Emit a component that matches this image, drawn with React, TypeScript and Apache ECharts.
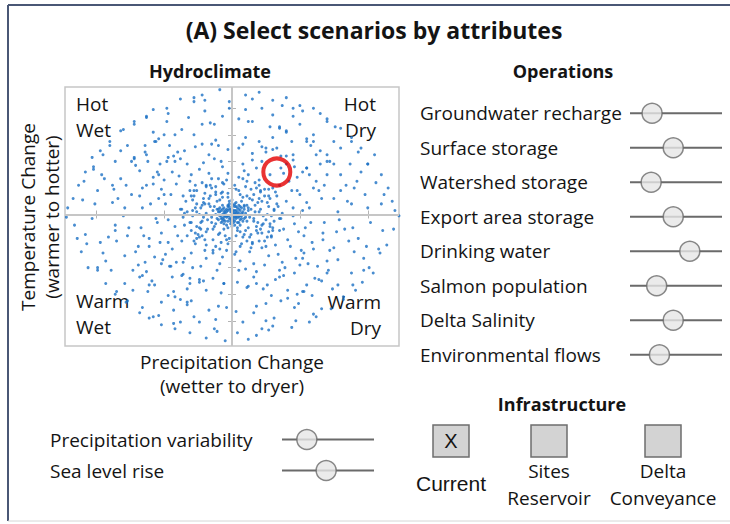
import React, { useEffect, useRef } from "react";
import * as echarts from "echarts";

const TITLE = "(A) Select scenarios by attributes";

// Scenario cloud: precipitation change (x, wetter -> dryer) and temperature change (y, warmer -> hotter), arbitrary units
const SCENARIOS_CORE =
  "0,0 2,1 -1,2 -3,-1 1,-2 4,0 -5,1 3,3 -2,-3 5,-2 -4,4 0,5 -6,-2 2,-5 6,3 -7,0 1,7 -3,6 7,-1 -8,3 4,-6 -1,-7 8,2 -5,-5 3,6 -9,-1 6,-4 -2,8 9,-3 -6,5 0,-9 -10,2 5,7 -4,-8 10,1 -11,-3 7,5 2,-8 -8,-6 -7,7 9,6 -12,0 11,-5 3,9 -3,-10 6,-8 -9,5 -1,4 2,3 -2,-1 1,1 -4,2 3,-3 -3,3 4,2 -6,-4 5,4 -5,-1 0,-4 -1,-5 2,6 4,-2 -7,-3 -6,2 1,-6 7,1 -8,-1 8,-5 -10,-4 -11,4 12,3 -2,10 0,11 4,-10 " +
  "1,3 -2,4 3,-1 -4,-2 5,1 -6,0 2,-2 -1,-3 6,-1 -3,-5 4,5 -5,3 0,2 1,-4 -2,6 7,-3 -7,4 3,1 -4,-1 8,0 -9,2 5,-6 -6,-7 2,8 -3,7 9,4 -8,-3 6,6 -7,-5 10,-2";
const SCENARIOS_NEAR =
  "14,4 -15,-6 18,-9 -17,8 20,2 -21,-2 13,12 -14,-11 16,15 -16,14 9,-15 -8,16 25,-4 -23,5 22,10 -23,-11 5,18 -4,-19 27,6 -26,-9 11,-20 -12,21 19,-14 -20,16 29,-1 -29,3 24,14 -24,-17 15,-21 -15,20 2,22 -3,-22 30,-10 -29,11 7,-22 -6,23 21,17 -20,-19 26,-17 -26,18 17,2 -19,1 12,-10 -11,10 23,-7 -22,7 8,13 -9,-14 28,12 -27,-14 14,19 -14,-19 31,4 -30,-6 20,-20 -19,21 10,21 -8,-21 26,0 -26,2 16,-5 -16,6 13,-17 -12,17 6,-13 -7,13 24,19 -22,-16 19,9 -18,-11 27,-13 -28,14 3,-16 -3,16 11,7 -12,-7 21,-11 -21,12 " +
  "13,-2 -14,3 10,-12 -9,11 17,7 -18,-4 6,15 -5,-16 19,-6 -20,8 15,11 -13,-9 4,-12 -3,13 21,4 -22,-5 11,14 -10,-15 18,-12 -17,12 8,-17 -7,17 23,-1 -24,0 12,5 -13,6 16,-3 -15,-2 7,10 -6,-11 20,12 -19,-13 14,-15 -12,15 3,19 -2,-18 22,-8 -21,9 9,7 -10,4";
const SCENARIOS_INNER =
  "26,9 -27,5 31,-5 -33,2 20,22 -22,24 24,-20 -26,-18 8,27 -9,-26 33,14 -30,-12 14,-25 -15,27 29,-16 -31,18 3,-28 -4,26 36,-3 -35,-8 17,24 -19,-23 27,19 -28,-20 34,6 -34,10 11,25 -12,-24 30,-12 -30,14 22,-14 -24,-10 18,20 -16,22 35,-12 -37,4 6,-24 -7,24 25,-24 -27,22 32,17 -33,-16 15,-22 -14,-27 37,1 -36,-2 21,18 -23,-6 28,-7 -29,-1";
const SCENARIOS_MID =
  "40,10 35,22 28,30 18,35 8,38 45,5 50,15 42,25 30,20 22,40 12,30 48,28 36,35 5,28 33,8 52,3 27,14 15,41 44,18 38,31 55,9 31,3 20,26 9,33 46,36 " +
  "-36,14 -31,25 -24,34 -17,31 -7,36 -49,8 -52,19 -41,23 -28,18 -21,39 -10,27 -44,32 -33,38 -3,31 -38,4 -54,12 -26,8 -13,42 -45,15 -39,29 -50,26 -30,30 -19,22 -8,40 -35,1 " +
  "-42,-9 -37,-20 -30,-29 -19,-33 -9,-37 -47,-4 -52,-14 -44,-26 -27,-22 -23,-39 -14,-29 -49,-30 -35,-33 -4,-27 -31,-6 -55,-6 -25,-15 -11,-42 -40,-16 -36,-36 -53,-21 -29,-40 -20,-27 -7,-32 -45,-39 " +
  "38,-11 32,-23 27,-31 16,-37 6,-35 46,-7 53,-16 43,-24 29,-17 24,-38 13,-28 47,-33 37,-36 2,-30 35,-3 54,-10 28,-9 10,-41 41,-19 34,-30 51,-27 22,-25 18,-43 5,-42 45,-1 " +
  "66,12 -67,-10 62,25 -63,22 55,35 -52,-37 40,44 -43,44 25,50 -24,-51 8,53 -6,-52 68,-6 -66,5 60,-26 -61,-24 50,-38 -48,40 35,-47 -36,-45 18,-52 -15,53 64,18 -65,-16 57,30 -58,28 45,41 -46,-39 30,49 -31,-48 12,-54 -10,52 67,-14 -68,14 52,-33 -55,32 38,-46 -40,47 22,51 -21,-50";
const SCENARIOS_OUTER =
  "60,20 70,30 20,55 45,45 57,5 75,12 65,38 33,50 10,58 52,32 78,2 68,22 40,38 25,47 5,50 62,45 48,18 30,58 15,46 72,40 58,52 44,55 80,18 55,35 36,44 " +
  "-58,23 -68,33 -22,53 -47,43 -60,8 -74,15 -62,40 -35,48 -12,56 -54,30 -79,5 -66,20 -42,40 -27,51 -3,49 -64,47 -50,15 -28,60 -17,45 -71,37 -56,55 -46,52 -78,22 -53,38 -38,42 " +
  "-61,-18 -71,-28 -19,-57 -44,-47 -56,-3 -76,-10 -64,-36 -31,-52 -8,-59 -51,-34 -80,-1 -69,-24 -41,-36 -24,-49 -6,-52 -63,-43 -47,-21 -33,-56 -14,-48 -73,-42 -59,-50 -43,-58 -77,-16 -57,-32 -37,-46 " +
  "59,-21 72,-27 23,-56 46,-44 58,-6 77,-13 63,-39 32,-49 11,-55 53,-29 79,-4 67,-19 39,-40 26,-53 4,-51 61,-48 49,-13 29,-61 16,-47 70,-35 55,-53 41,-57 75,-25 56,-37 35,-42 " +
  "88,8 -86,-12 80,30 -82,27 70,45 -68,-47 55,57 -57,55 35,65 -33,-66 12,70 -10,-69 89,-10 -88,9 78,-34 -79,-31 66,-50 -64,52 48,-60 -47,-61 25,-67 -22,68 84,22 -85,-20 75,38 -74,40 60,55 -61,-53 40,63 -42,-62 18,-69 -16,69 86,-20 -87,19 70,-44 -72,43 52,-58 -50,60 28,66 -30,-65";
const SCENARIOS_FAR =
  "90,20 80,50 30,75 60,60 100,5 50,68 70,40 15,70 95,32 85,10 40,62 22,80 75,55 65,48 98,15 5,72 55,55 87,38 45,74 35,66 92,25 10,79 " +
  "-88,22 -82,48 -32,73 -58,62 -101,8 -48,70 -72,42 -13,68 -96,30 -84,12 -42,60 -20,78 -77,52 -63,45 -99,18 -7,74 -54,57 -86,40 -47,76 -37,64 -94,27 -2,80 " +
  "-91,-17 -79,-52 -28,-77 -62,-58 -103,-3 -52,-66 -69,-38 -17,-72 -93,-35 -86,-8 -38,-64 -24,-81 -73,-57 -66,-46 -97,-21 -4,-70 -57,-53 -89,-42 -43,-72 -33,-68 -95,-29 -12,-79 " +
  "93,-18 78,-53 31,-78 59,-61 102,-6 49,-67 71,-42 16,-74 97,-33 83,-11 41,-63 25,-80 74,-56 64,-49 99,-24 3,-73 53,-58 88,-44 46,-70 36,-65 90,-28 8,-81";
const SCENARIOS_EDGE =
  "110,30 95,50 60,80 20,92 118,10 80,65 40,88 105,45 115,20 70,72 30,86 88,58 50,82 10,90 100,38 120,3 65,76 112,15 " +
  "-108,32 -97,48 -58,79 -22,90 -117,12 -82,63 -38,87 -103,43 -113,22 -72,70 -28,88 -90,55 -48,80 -9,94 -102,36 -121,5 -63,74 -2,85 " +
  "-111,-28 -93,-52 -61,-78 -19,-93 -116,-8 -78,-66 -42,-86 -106,-40 -114,-18 -68,-74 -31,-89 -86,-60 -52,-83 -11,-88 -99,-42 -122,-2 -66,-70 -5,-95 " +
  "109,-29 96,-51 57,-81 18,-91 119,-11 82,-64 44,-85 104,-44 114,-23 73,-71 27,-87 91,-57 47,-80 12,-94 101,-40 123,-1 62,-77 4,-89 " +
  "110,8 -108,-15 100,38 -102,34 88,55 -85,-58 70,70 -72,68 45,80 -43,-82 15,87 -13,-86 111,-12 -110,11 97,-42 -99,-40 82,-62 -80,64 60,-75 -58,-77 30,-84 -28,85 106,24 -107,-22 93,47 -95,45 76,66 -77,-65 52,78 -54,-76 22,-86 -20,86 108,-26 -109,25 89,-53 -90,52 66,-71 -63,73 37,82 -38,-81";

const parsePairs = (s: string) =>
  s.trim().split(/\s+/).map((p) => p.split(",").map(Number));
const SCENARIOS = [
  SCENARIOS_CORE,
  SCENARIOS_NEAR,
  SCENARIOS_INNER,
  SCENARIOS_MID,
  SCENARIOS_OUTER,
  SCENARIOS_FAR,
  SCENARIOS_EDGE,
].flatMap(parsePairs);

const SELECTED_SCENARIO = [33, 32];

const X_RANGE = [-123, 123];
const Y_RANGE = [-99, 96];
const X_TICKS = [-100, -50, 0, 50, 100];
const Y_TICKS = [-80, -60, -40, -20, 0, 20, 40, 60, 80];

const OPERATIONS = [
  "Groundwater recharge",
  "Surface storage",
  "Watershed storage",
  "Export area storage",
  "Drinking water",
  "Salmon population",
  "Delta Salinity",
  "Environmental flows",
];
const OPERATION_LEVELS = [0.24, 0.47, 0.23, 0.47, 0.65, 0.29, 0.47, 0.32];

const CLIMATE_SLIDERS = ["Precipitation variability", "Sea level rise"];
const CLIMATE_LEVELS = [0.27, 0.48];

const INFRASTRUCTURE = ["Current", "Sites\nReservoir", "Delta\nConveyance"];
const INFRA_SELECTED = [true, false, false];

const FONT = '"Open Sans", "Noto Sans", sans-serif';
const ARIAL = '"Liberation Sans", Arial, sans-serif';
const INK = "#141414";
const DOT = "#1c70c4";
const TRACK = "#6a6a6a";
const KNOB_FILL = "#e6e6e6";

const scatterAxisX = (position: "bottom" | "top") => ({
  gridIndex: 0,
  type: "value",
  position,
  min: X_RANGE[0],
  max: X_RANGE[1],
  axisLine: { show: false },
  axisLabel: { show: false },
  splitLine: { show: false },
  axisTick: {
    show: true,
    inside: true,
    length: 4,
    customValues: X_TICKS,
    lineStyle: { color: "#b4b4b4", width: 1 },
  },
});
const scatterAxisY = (position: "left" | "right") => ({
  gridIndex: 0,
  type: "value",
  position,
  min: Y_RANGE[0],
  max: Y_RANGE[1],
  axisLine: { show: false },
  axisLabel: { show: false },
  splitLine: { show: false },
  axisTick: {
    show: true,
    inside: true,
    length: 4,
    customValues: Y_TICKS,
    lineStyle: { color: "#b4b4b4", width: 1 },
  },
});

const sliderCategoryAxis = (gridIndex: number, data: string[], margin: number) => ({
  gridIndex,
  type: "category",
  inverse: true,
  data,
  axisLine: { show: false },
  axisTick: { show: false },
  splitLine: { show: false },
  axisLabel: {
    margin,
    align: "left",
    interval: 0,
    fontSize: 19,
    fontFamily: FONT,
    color: INK,
  },
});

const txt = (
  text: string,
  x: number,
  y: number,
  opts: Record<string, unknown> = {}
) => ({
  type: "text",
  x,
  y,
  silent: true,
  style: {
    text,
    fill: INK,
    fontFamily: FONT,
    fontSize: 19,
    align: "center",
    verticalAlign: "middle",
    ...opts,
  },
});

const INFRA_X = [451, 549, 663];

function buildOption() {
  const graphics: any[] = [
    { type: "line", shape: { x1: 8, y1: 5, x2: 8, y2: 521 }, style: { stroke: "#4a5775", lineWidth: 2 } },
    { type: "line", shape: { x1: 8, y1: 5, x2: 730, y2: 5 }, style: { stroke: "#4a5775", lineWidth: 2 } },
    { type: "line", shape: { x1: 8, y1: 521, x2: 730, y2: 521 }, style: { stroke: "#d6d6d6", lineWidth: 1 } },
    txt(TITLE, 374, 30, { fontSize: 23, fontWeight: "bold" }),
    txt("Hydroclimate", 210, 71, { fontSize: 18, fontWeight: "bold" }),
    txt("Operations", 563, 71, { fontSize: 18, fontWeight: "bold" }),
    txt("Infrastructure", 562, 404, { fontSize: 18, fontWeight: "bold" }),
    txt("Hot\nWet", 76, 117, { align: "left", lineHeight: 26 }),
    txt("Hot\nDry", 376, 117, { align: "right", lineHeight: 26 }),
    txt("Warm\nWet", 76, 314, { align: "left", lineHeight: 26 }),
    txt("Warm\nDry", 381, 315, { align: "right", lineHeight: 26 }),
    txt("Precipitation Change\n(wetter to dryer)", 232, 374, { lineHeight: 24 }),
    {
      ...txt("Temperature Change\n(warmer to hotter)", 40, 217, { lineHeight: 24 }),
      rotation: Math.PI / 2,
    },
  ];

  INFRASTRUCTURE.forEach((name, i) => {
    const cx = INFRA_X[i];
    graphics.push({
      type: "rect",
      shape: { x: cx - 18, y: 425, width: 36, height: 32 },
      style: { fill: "#d3d3d3", stroke: "#6e6e6e", lineWidth: 1.5 },
      silent: true,
    });
    if (INFRA_SELECTED[i]) {
      graphics.push(txt("X", cx, 441, { fontFamily: ARIAL, fontSize: 20 }));
    }
    if (name.includes("\n")) {
      graphics.push(txt(name, cx, 484, { lineHeight: 27 }));
    } else {
      graphics.push(txt(name, cx, 483, { fontFamily: ARIAL, fontSize: 21 }));
    }
  });

  return {
    animation: false,
    backgroundColor: "#ffffff",
    grid: [
      {
        left: 65,
        top: 87,
        width: 334,
        height: 259,
        show: true,
        borderColor: "#c6c6c6",
        borderWidth: 1.5,
        backgroundColor: "transparent",
      },
      { left: 630, top: 96, width: 92, height: 276 },
      { left: 282, top: 424, width: 92, height: 62 },
    ],
    xAxis: [
      scatterAxisX("bottom"),
      scatterAxisX("top"),
      { gridIndex: 1, type: "value", min: 0, max: 1, show: false },
      { gridIndex: 2, type: "value", min: 0, max: 1, show: false },
    ],
    yAxis: [
      scatterAxisY("left"),
      scatterAxisY("right"),
      sliderCategoryAxis(1, OPERATIONS, 210),
      sliderCategoryAxis(2, CLIMATE_SLIDERS, 232),
    ],
    series: [
      {
        type: "scatter",
        xAxisIndex: 0,
        yAxisIndex: 0,
        data: [],
        z: 1,
        silent: true,
        markLine: {
          silent: true,
          symbol: ["none", "none"],
          label: { show: false },
          lineStyle: { color: "#c6c6c6", width: 2, type: "solid" },
          data: [{ xAxis: 0 }, { yAxis: 0 }],
        },
      },
      {
        type: "scatter",
        xAxisIndex: 0,
        yAxisIndex: 0,
        data: SCENARIOS,
        symbol: "circle",
        symbolSize: 3,
        z: 2,
        silent: true,
        itemStyle: { color: DOT },
      },
      {
        type: "scatter",
        xAxisIndex: 0,
        yAxisIndex: 0,
        data: [SELECTED_SCENARIO],
        symbol: "circle",
        symbolSize: 27,
        z: 3,
        silent: true,
        itemStyle: { color: "rgba(0,0,0,0)", borderColor: "#e30000", borderWidth: 4 },
      },
      {
        type: "bar",
        xAxisIndex: 2,
        yAxisIndex: 2,
        data: OPERATIONS.map(() => 1),
        barWidth: 2,
        silent: true,
        itemStyle: { color: TRACK },
      },
      {
        type: "scatter",
        xAxisIndex: 2,
        yAxisIndex: 2,
        data: OPERATION_LEVELS.map((v, i) => [v, i]),
        symbol: "circle",
        symbolSize: 20,
        z: 4,
        silent: true,
        itemStyle: { color: KNOB_FILL, borderColor: TRACK, borderWidth: 1.5 },
      },
      {
        type: "bar",
        xAxisIndex: 3,
        yAxisIndex: 3,
        data: CLIMATE_SLIDERS.map(() => 1),
        barWidth: 2,
        silent: true,
        itemStyle: { color: TRACK },
      },
      {
        type: "scatter",
        xAxisIndex: 3,
        yAxisIndex: 3,
        data: CLIMATE_LEVELS.map((v, i) => [v, i]),
        symbol: "circle",
        symbolSize: 20,
        z: 4,
        silent: true,
        itemStyle: { color: KNOB_FILL, borderColor: TRACK, borderWidth: 1.5 },
      },
    ],
    graphic: graphics,
  };
}

export default function App() {
  const ref = useRef<HTMLDivElement>(null);
  useEffect(() => {
    if (!ref.current) return;
    const chart = echarts.init(ref.current, null, { renderer: "svg" });
    chart.setOption(buildOption() as any);
    return () => chart.dispose();
  }, []);
  return (
    <div
      ref={ref}
      style={{ position: "fixed", left: 0, top: 0, width: 730, height: 524, background: "#fff" }}
    />
  );
}
